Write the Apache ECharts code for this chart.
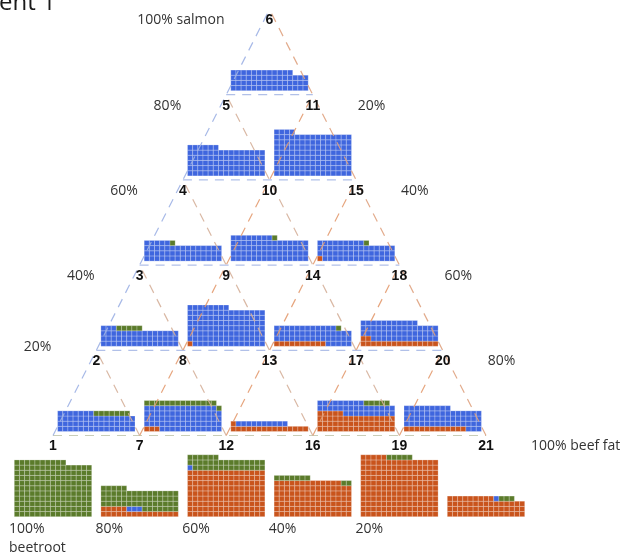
<!DOCTYPE html>
<html><head><meta charset="utf-8">
<script src="https://cdn.jsdelivr.net/npm/echarts@6/dist/echarts.min.js"></script>
<style>html,body{margin:0;padding:0;background:#fff}#c{width:621px;height:557px}</style>
</head><body><div id="c"></div>
<script>
// ---------- DATA ----------
// mixture numbers at the triangle vertices, rows from bottom (0% salmon) to top (100% salmon)
const mixtureNumbers = [[1,7,12,16,19,21],[2,8,13,17,20],[3,9,14,18],[4,10,15],[5,11],[6]];
// waffles inside the triangle, top row first, left to right
const triangleCells = ['5-11','4-10','10-15','3-9','9-14','14-18','2-8','8-13','13-17','17-20','1-7','7-12','12-16','16-19','19-21'];
const triBeefFat  = [0,0,0,0,0,1,0,1,10,17,0,3,16,50,12];
const triSalmon   = [57,81,124,50,68,53,48,112,47,54,52,71,10,34,57];
const triBeetroot = [0,0,0,1,1,1,5,0,1,0,7,15,0,5,0];
// bottom row waffles
const bottomLabels = ['100%\nbeetroot','80%','60%','40%','20%',''];
const botBeefFat  = [0,20,135,103,170,54];
const botSalmon   = [0,3,1,0,0,1];
const botBeetroot = [160,57,35,9,5,3];
// side labels
const leftLabels  = ['100% salmon','80%','60%','40%','20%'];   // rows 5..1
const rightLabels = ['20%','40%','60%','80%','100% beef fat']; // rows 4..0
const titleText = 'ent 1';

// ---------- LAYOUT ----------
const X0 = 53, DX = 86.6, LY0 = 435.5, DY = 85.2, P = 5.16, COLS = 15;
const COLORS = ['#c9541c', '#3f66de', '#5b7b2b']; // beef fat, salmon, beetroot
const px = (r, i) => X0 + (i + r / 2) * DX;
const ly = r => LY0 - r * DY;

// waffle cell data: [centerX, bottomY, cellIndex, colorIndex]
const cells = [];
function addWaffle(cx, by, counts) {
  let k = 0;
  counts.forEach((n, ci) => { for (let j = 0; j < n; j++) cells.push([cx, by, k++, ci]); });
}
let t = 0;
for (let r = 4; r >= 0; r--) {
  for (let i = 0; i < 5 - r; i++, t++) {
    addWaffle(px(r, i + 0.5), ly(r) - 4, [triBeefFat[t], triSalmon[t], triBeetroot[t]]);
  }
}
for (let i = 0; i < 6; i++) addWaffle(px(0, i), 516.7, [botBeefFat[i], botSalmon[i], botBeetroot[i]]);

// dashed grid lines
const lineSeries = [];
function addLine(a, b, color) {
  lineSeries.push({type: 'line', data: [a, b], symbol: 'none', silent: true, z: 4,
    lineStyle: {color: color, width: 1.2, type: [9, 7], opacity: 0.9}});
}
for (let r = 0; r <= 4; r++) addLine([px(r, 0), ly(r)], [px(r, 5 - r), ly(r)], r === 0 ? '#c3c9b0' : '#a9b9e6');
for (let i = 0; i <= 4; i++) addLine([px(0, i), ly(0)], [px(5 - i, i), ly(5 - i)], i === 0 ? '#9db1e4' : '#e39b70');
for (let i = 1; i <= 5; i++) addLine([px(0, i), ly(0)], [px(i, 0), ly(i)], i === 5 ? '#dfa27f' : '#d5b09a');

// text items
const numItems = [], pctItems = [];
mixtureNumbers.forEach((row, r) => row.forEach((n, i) => numItems.push({x: px(r, i), y: ly(r) + 11, t: String(n)})));
leftLabels.forEach((s, k) => { const r = 5 - k; pctItems.push({x: px(r, 0) - 45, y: ly(r) + 11 + (r === 1 ? -14 : 0), t: s, align: 'right'}); });
rightLabels.forEach((s, k) => { const r = 4 - k; pctItems.push({x: px(r, 5 - r) + 45, y: ly(r) + 11, t: s, align: 'left'}); });
const botItems = bottomLabels.map((s, i) => ({x: px(0, i) - 44, y: 520, t: s, align: 'left'}));

function textSeries(items, style, va) {
  return {type: 'custom', coordinateSystem: 'cartesian2d', silent: true, z: 6,
    data: items.map(d => [d.x, d.y]),
    renderItem: (params, api) => {
      const c = api.coord([api.value(0), api.value(1)]);
      const d = items[params.dataIndex];
      return {type: 'text', x: c[0], y: c[1],
        style: Object.assign({text: d.t, align: d.align || 'center', verticalAlign: va || 'middle'}, style)};
    }};
}

const chart = echarts.init(document.getElementById('c'), null, {renderer: 'canvas'});
chart.setOption({
  animation: false,
  backgroundColor: '#fff',
  grid: {left: 0, right: 0, top: 0, bottom: 0},
  xAxis: {type: 'value', min: 0, max: 621, show: false},
  yAxis: {type: 'value', min: 0, max: 557, inverse: true, show: false},
  graphic: [{type: 'text', left: -1, top: -9,
    style: {text: titleText, fontSize: 24, fontFamily: 'Open Sans', fill: '#1a1a1a'}}],
  series: [
    {type: 'custom', coordinateSystem: 'cartesian2d', silent: true, z: 2,
      encode: {x: 0, y: 1},
      data: cells,
      renderItem: (params, api) => {
        const c = api.coord([api.value(0), api.value(1)]);
        const s = api.size([P, P]);
        const w = Math.abs(s[0]), h = Math.abs(s[1]);
        const k = api.value(2), ci = api.value(3);
        const col = k % COLS, row = Math.floor(k / COLS);
        const left = c[0] - COLS / 2 * w;
        return {type: 'rect',
          shape: {x: left + col * w, y: c[1] - (row + 1) * h, width: w, height: h},
          style: {fill: COLORS[ci], stroke: 'rgba(255,255,255,0.4)', lineWidth: 0.6}};
      }},
    ...lineSeries,
    textSeries(numItems, {fontSize: 14, fontWeight: 'bold', fontFamily: 'Liberation Sans', fill: '#111'}),
    textSeries(pctItems, {fontSize: 14, fontFamily: 'Open Sans', fill: '#333'}),
    textSeries(botItems, {fontSize: 14, fontFamily: 'Open Sans', fill: '#333', lineHeight: 19}, 'top')
  ]
});
</script></body></html>
